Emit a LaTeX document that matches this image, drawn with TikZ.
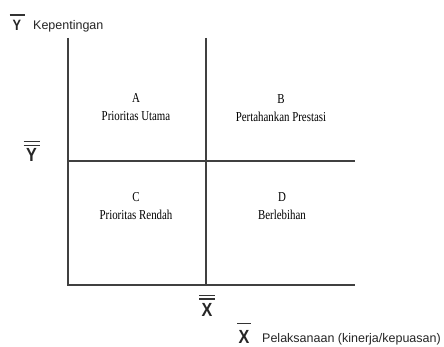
\documentclass[tikz,border=0pt]{standalone}
\usepackage{fontspec}
\setmainfont{Liberation Serif}
\newfontfamily\labelfont[FakeStretch=0.8]{Liberation Serif}
\newfontfamily\axisfont{Liberation Sans}
\newfontfamily\symfont[FakeStretch=0.85]{Liberation Sans}
\begin{document}
\begin{tikzpicture}[x=1pt,y=-1pt,
  axis/.style={line width=1.1pt, draw=black!75},
  quad/.style={font=\labelfont\fontsize{13.6}{16}\selectfont, anchor=base, inner sep=0},
  axlabel/.style={font=\axisfont\fontsize{12.5}{14}\selectfont, anchor=base west, inner sep=0, text=black!85},
  sym/.style={font=\symfont\bfseries\fontsize{19}{19}\selectfont, inner sep=0, text=black!85},
  symsmall/.style={font=\symfont\bfseries\fontsize{15}{15}\selectfont, inner sep=0, text=black!85},
  bar/.style={line width=1.5pt, draw=black!80}]
\useasboundingbox[fill=white] (0,0) rectangle (444,347);
% axes and dividing lines
\coordinate (tl) at (68,38);
\coordinate (o) at (68,285);
\coordinate (br) at (355,285);
\coordinate (mt) at (206,38);
\coordinate (mb) at (206,285);
\coordinate (ml) at (68,161);
\coordinate (mr) at (355,161);
\draw[axis] (tl) -- (o) -- (br);
\draw[axis] (mt) -- (mb);
\draw[axis] (ml) -- (mr);
% quadrant labels
\node[quad] (qa) at (136,103) {A};
\node[quad] (qat) at (136,121) {Prioritas Utama};
\node[quad] (qb) at (281,103.5) {B};
\node[quad] (qbt) at (281,122) {Pertahankan Prestasi};
\node[quad] (qc) at (136,202) {C};
\node[quad] (qct) at (136,220) {Prioritas Rendah};
\node[quad] (qd) at (282,202) {D};
\node[quad] (qdt) at (282,220) {Berlebihan};
% axis labels
\node[symsmall] (ybar) at (17,25) {Y};
\draw[bar] ([xshift=-7.5pt,yshift=4.5pt]ybar.north) -- ([xshift=7.5pt,yshift=4.5pt]ybar.north);
\node[axlabel] (ylab) at (33,30) {Kepentingan};
\node[sym] (ydbar) at (31.5,155) {Y};
\draw[bar] ([xshift=-8pt,yshift=7pt]ydbar.north) -- ([xshift=8pt,yshift=7pt]ydbar.north);
\draw[bar] ([xshift=-8pt,yshift=3pt]ydbar.north) -- ([xshift=8pt,yshift=3pt]ydbar.north);
\node[sym] (xdbar) at (207,310) {X};
\draw[bar] ([xshift=-8pt,yshift=8pt]xdbar.north) -- ([xshift=8pt,yshift=8pt]xdbar.north);
\draw[bar] ([xshift=-8pt,yshift=4.5pt]xdbar.north) -- ([xshift=8pt,yshift=4.5pt]xdbar.north);
\node[sym] (xbar) at (244,337) {X};
\draw[bar] ([xshift=-7pt,yshift=7pt]xbar.north) -- ([xshift=7pt,yshift=7pt]xbar.north);
\node[axlabel] (xlab) at (262,342) {Pelaksanaan (kinerja/kepuasan)};
\end{tikzpicture}
\end{document}
